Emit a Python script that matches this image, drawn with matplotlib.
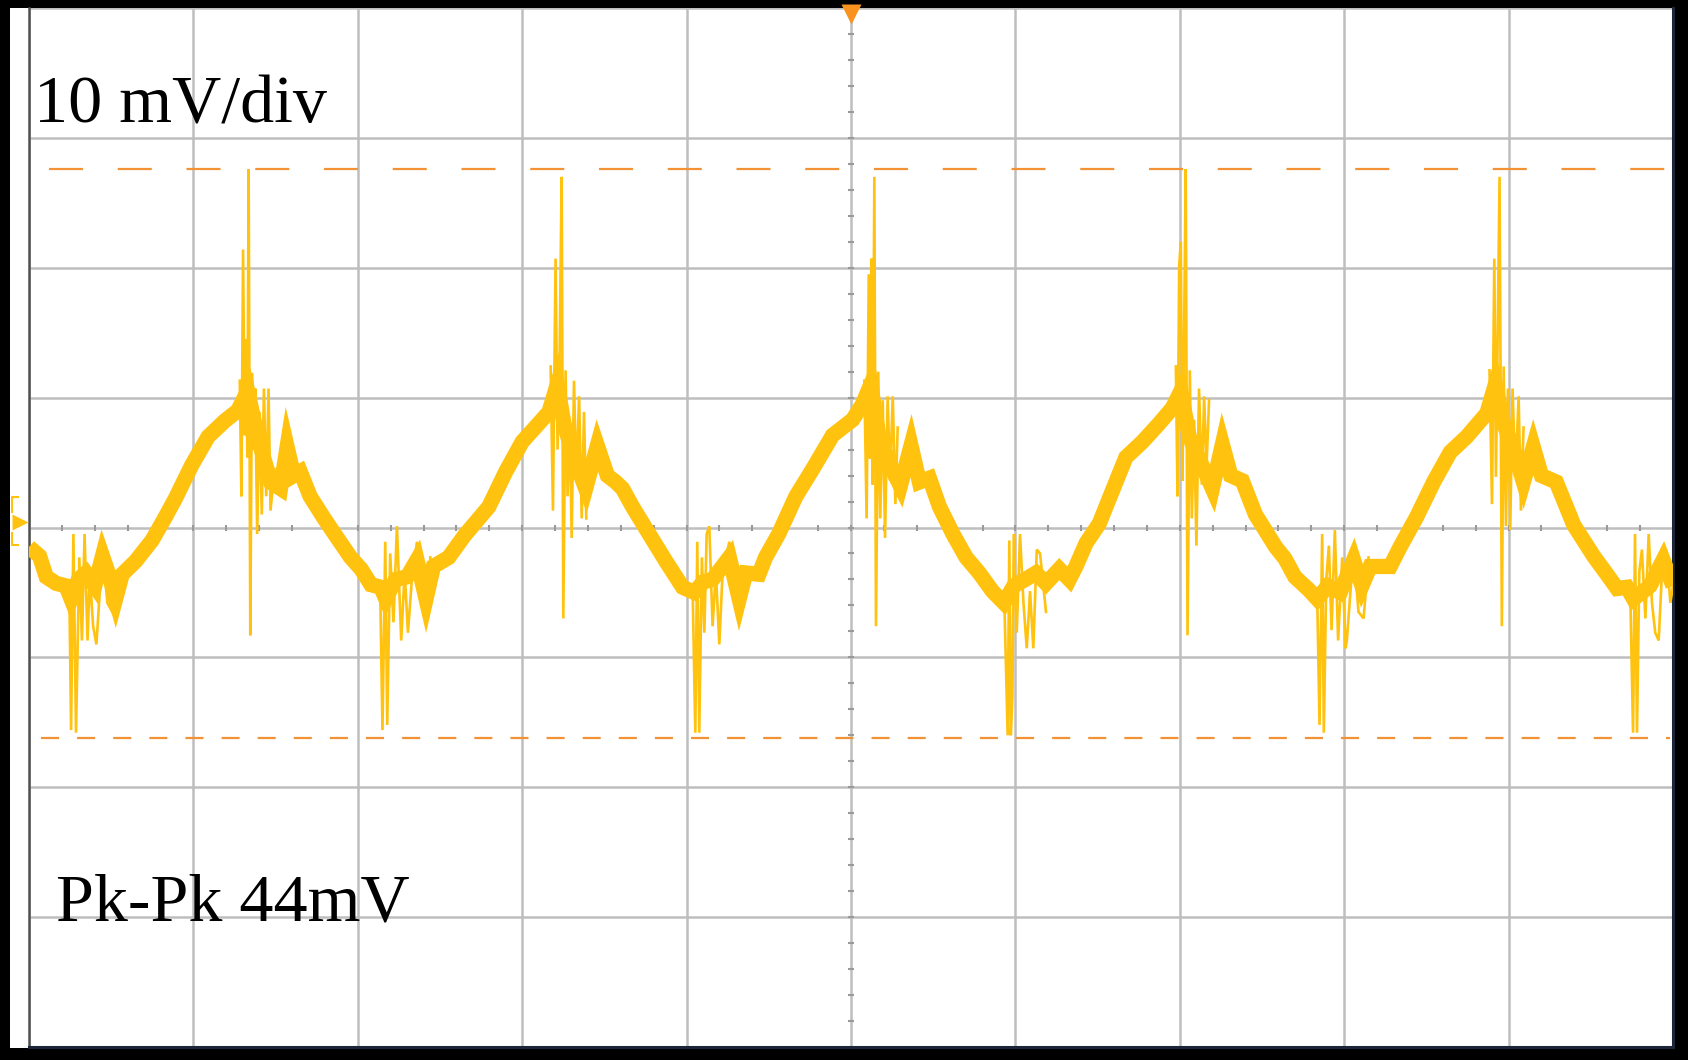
import numpy as np
import matplotlib
matplotlib.use("Agg")
import matplotlib.pyplot as plt
from matplotlib.patches import Rectangle
from matplotlib.transforms import blended_transform_factory

# ---------------- data (time in divisions, voltage in mV) ----------------
band_t = [0.000, 0.064, 0.105, 0.165, 0.225, 0.256, 0.300, 0.346, 0.400, 0.447, 0.490, 0.527, 0.567,
          0.648, 0.748, 0.829, 0.889, 0.990, 1.090, 1.190, 1.270, 1.330, 1.390, 1.470, 1.530, 1.570,
          1.610, 1.650, 1.710, 1.795, 1.875, 1.956,
          2.020, 2.080, 2.140, 2.170, 2.230, 2.300, 2.360, 2.415, 2.460, 2.553, 2.650, 2.797, 2.900,
          3.000, 3.100, 3.163, 3.213, 3.254, 3.325, 3.386, 3.457, 3.518, 3.569, 3.610, 3.671, 3.772,
          3.874, 3.976,
          4.047, 4.100, 4.158, 4.260, 4.320, 4.360, 4.440, 4.480, 4.560, 4.665, 4.767, 4.888, 5.010,
          5.070, 5.120, 5.170, 5.250, 5.300, 5.365, 5.416, 5.477, 5.538, 5.620, 5.700, 5.780, 5.860,
          5.930,
          5.990, 6.060, 6.125, 6.186, 6.267, 6.328, 6.368, 6.430, 6.510, 6.570, 6.672, 6.773, 6.874,
          6.955, 7.006, 7.057, 7.128, 7.198, 7.259, 7.310, 7.380, 7.460, 7.583, 7.640, 7.700, 7.785,
          7.836,
          7.900, 7.976, 8.057, 8.108, 8.158, 8.280, 8.340, 8.440, 8.544, 8.645, 8.746, 8.868, 8.919,
          8.970, 9.030, 9.090, 9.150, 9.200, 9.290, 9.396, 9.517, 9.598, 9.660, 9.720, 9.760, 9.860,
          9.940, 10.000]
band_v = [-1.5, -2.2, -3.8, -4.3, -4.5, -5.5, -4.0, -3.5, -4.5, -2.2, -3.8, -5.5, -3.6,
          -2.6, -1.0, 0.8, 2.2, 4.8, 7.0, 8.2, 9.0, 10.5, 7.0, 3.5, 3.0, 6.2,
          4.0, 4.3, 2.4, 0.7, -0.8, -2.3,
          -3.2, -4.4, -4.6, -5.5, -4.0, -3.8, -2.5, -5.5, -3.0, -2.3, -0.6, 1.6, 4.3,
          6.6, 8.0, 8.9, 11.0, 8.0, 5.0, 3.0, 6.3, 4.0, 3.5, 3.0, 1.6, -0.5,
          -2.6, -4.6,
          -5.0, -4.2, -4.0, -2.3, -5.5, -3.5, -3.6, -2.3, -0.5, 2.4, 4.5, 7.1, 8.3,
          9.5, 11.0, 7.0, 4.5, 3.2, 6.3, 3.5, 3.8, 1.6, -0.5, -2.3, -3.5, -4.9,
          -5.8,
          -4.5, -4.0, -3.5, -4.3, -3.2, -4.0, -3.0, -1.2, 0.3, 2.2, 5.4, 6.6, 8.0,
          9.2, 10.5, 7.0, 5.0, 3.0, 6.4, 4.0, 3.6, 1.0, -1.5, -2.4, -3.8, -4.8,
          -5.5,
          -4.5, -5.0, -2.5, -4.5, -3.0, -3.0, -1.5, 0.8, 3.5, 5.8, 7.0, 8.8, 11.0,
          8.0, 6.0, 3.5, 6.2, 4.0, 3.5, 0.2, -2.2, -3.6, -4.7, -4.6, -5.5, -4.5,
          -2.5, -4.5]

nan = np.nan
ring_t = [0.245, 0.256, 0.270, 0.286, 0.306, 0.322, 0.338, 0.356, 0.370, 0.390, 0.410, 0.447, 0.477, 0.527, nan,
          1.282, 1.292, 1.302, 1.312, 1.320, 1.328, 1.336, 1.346, 1.356, 1.368, 1.376, 1.388, 1.402, 1.416, 1.429, 1.443, 1.457, 1.469, 1.493, nan,
          2.136, 2.150, 2.167, 2.179, 2.197, 2.217, 2.238, 2.264, 2.285, 2.305, 2.329, 2.360, 2.390, 2.415, 2.441, nan,
          3.173, 3.187, 3.203, 3.215, 3.228, 3.240, 3.250, 3.264, 3.276, 3.289, 3.301, 3.315, 3.329, 3.346, 3.362, 3.376, 3.390, nan,
          4.037, 4.053, 4.065, 4.077, 4.093, 4.108, 4.122, 4.138, 4.158, 4.178, 4.199, 4.219, 4.260, 4.290, 4.320, nan,
          5.081, 5.095, 5.108, 5.116, 5.124, 5.132, 5.142, 5.152, 5.166, 5.178, 5.193, 5.207, 5.223, 5.237, 5.254, 5.270, 5.284, nan,
          5.933, 5.953, 5.963, 5.972, 5.982, 5.990, 6.008, 6.028, 6.049, 6.069, 6.089, 6.109, 6.130, 6.150, 6.186, nan,
          6.976, 6.986, 6.996, 7.006, 7.016, 7.026, 7.036, 7.047, 7.061, 7.073, 7.087, 7.101, 7.117, 7.134, 7.148, 7.162, 7.178, nan,
          7.836, 7.850, 7.866, 7.876, 7.891, 7.907, 7.923, 7.943, 7.963, 7.988, 8.008, 8.016, 8.057, 8.087, 8.118, 8.148, nan,
          8.884, 8.899, 8.913, 8.923, 8.933, 8.945, 8.959, 8.970, 8.984, 8.996, 9.010, 9.024, 9.041, 9.061, 9.075, 9.091, nan,
          9.740, 9.757, 9.769, 9.781, 9.795, 9.811, 9.832, 9.852, 9.872, 9.892, 9.913, 9.933, 9.959, 9.984, 10.000]
ring_v = [-4.5, -15.6, -0.5, -15.8, -2.3, -8.7, -0.5, -8.7, -3.7, -7.6, -9.0, -1.7, -5.8, -7.0, nan,
          11.3, 2.4, 21.4, 7.1, 14.5, 5.4, 27.6, -8.3, 11.9, 6.0, 10.7, -0.5, 8.9, 1.0, 10.7, 2.4, 10.7, 1.3, 4.5, nan,
          -4.5, -15.6, -1.1, -15.2, -2.0, -7.3, 0.1, -8.7, -3.4, -8.1, -4.0, -1.1, -5.3, -7.0, -2.3, nan,
          12.4, 1.3, 20.7, 6.0, 13.6, 27.0, -7.0, 12.1, 2.4, 8.3, -0.8, 11.3, 3.6, 10.1, 0.7, 8.9, 0.7, nan,
          -5.0, -15.8, -1.1, -15.8, -2.3, -8.1, -0.5, 0.1, -7.6, -3.4, -9.0, -3.4, -1.1, -4.6, -7.0, nan,
          11.3, 0.7, 19.5, 5.3, 20.7, 3.3, 27.0, -7.6, 12.0, 0.7, 9.8, -0.8, 10.1, 3.6, 10.1, 1.8, 7.7, nan,
          -5.8, -16.0, -1.0, -16.0, -13.0, -0.5, -8.1, -0.5, -5.8, -9.3, -4.9, -9.3, -1.7, -2.0, -6.5, nan,
          12.4, 2.4, 20.1, 22.0, 3.6, 14.5, 27.6, -8.3, 12.1, 0.7, 8.3, -1.4, 10.7, 3.3, 10.1, 4.5, 9.8, nan,
          -5.5, -15.2, -0.5, -15.8, -4.0, -1.4, -7.9, -0.2, -8.7, -2.3, -9.3, -8.7, -1.7, -6.5, -7.0, -2.3, nan,
          12.1, 1.8, 20.7, 3.9, 14.2, 27.0, -7.6, 12.4, 0.1, 10.7, -0.2, 10.7, 3.9, 10.1, 1.3, 7.7, nan,
          -5.0, -15.8, -0.5, -15.8, -3.4, -1.7, -7.0, -0.5, -5.8, -8.1, -8.7, -3.4, -1.7, -5.8, -4.5]

cursor_top_mv = 27.6
cursor_bot_mv = -16.2
cursor_top_span = [0.12, 9.98]
cursor_bot_span = [0.07, 9.98]
label_scale = "10 mV/div"
label_pkpk = "Pk-Pk 44mV"

# ---------------- styling ----------------
W, H = 1688, 1060
plt.rcParams['lines.scale_dashes'] = False
TRACE = '#FFC20E'
CURSOR = '#F39234'
GRID = '#BEBEBE'

fig = plt.figure(figsize=(W / 100, H / 100), dpi=100, facecolor='black')
fig.patches.append(Rectangle((10 / W, 1 - 1048 / H), (1675 - 10) / W, (1048 - 8) / H,
                             transform=fig.transFigure, facecolor='white', edgecolor='none', zorder=-10))

ax = fig.add_axes([29 / W, 1 - 1047 / H, (1673 - 29) / W, (1047 - 8) / H])
ax.set_zorder(1)
ax.set_facecolor('white')
ax.set_xlim(0, 10)
ax.set_ylim(-40, 40)
ax.set_xticks(np.arange(0, 11, 1))
ax.set_yticks(np.arange(-40, 41, 10))
ax.tick_params(length=0, labelbottom=False, labelleft=False)
ax.grid(True, color=GRID, lw=1.8, zorder=0)
ax.set_axisbelow(True)
ax.spines['top'].set_visible(False)
ax.spines['left'].set_color('#505050')
ax.spines['left'].set_linewidth(1.8)
for s in ('bottom', 'right'):
    ax.spines[s].set_color('#1c2638')
    ax.spines[s].set_linewidth(2.2)

# centre graticule minor ticks
xs = np.arange(0.2, 10, 0.2)
ax.plot(xs, np.zeros_like(xs), ls='none', marker='|', ms=5, mew=1.5, color='#9A9A9A', zorder=1)
ys = np.arange(-38, 40, 2)
ax.plot(np.full_like(ys, 5.0, dtype=float), ys, ls='none', marker='_', ms=5, mew=1.5, color='#9A9A9A', zorder=1)

# cursors
ax.plot(cursor_top_span, [cursor_top_mv] * 2, color=CURSOR, lw=1.6, dashes=(24.5, 25), zorder=2)
ax.plot(cursor_bot_span, [cursor_bot_mv] * 2, color=CURSOR, lw=1.6, dashes=(13, 13), zorder=2)

# trace
ax.plot(ring_t, ring_v, color=TRACE, lw=1.9, zorder=3, solid_joinstyle='miter')
ax.plot(band_t, band_v, color=TRACE, lw=11, zorder=4, solid_joinstyle='miter', solid_capstyle='butt')

# trigger marker (top) and channel marker (left)
tr = blended_transform_factory(ax.transData, fig.transFigure)
ax.plot([5], [1 - 14 / H], marker='v', ms=15, color='#F7931E', mec='none', transform=tr, clip_on=False, zorder=6)
fig.lines.append(plt.Line2D([20 / W], [1 - 522 / H], marker='>', ms=11, color=TRACE, mec='none',
                            transform=fig.transFigure, zorder=6))
fig.lines.append(plt.Line2D([18 / W, 12 / W, 12 / W], [1 - 497 / H, 1 - 497 / H, 1 - 512 / H],
                            transform=fig.transFigure, color=TRACE, lw=1.5))
fig.lines.append(plt.Line2D([12 / W, 12 / W, 18 / W], [1 - 533 / H, 1 - 545 / H, 1 - 545 / H],
                            transform=fig.transFigure, color=TRACE, lw=1.5))

# labels
fig.text(34 / W, 1 - 123 / H, label_scale, fontsize=49, family='Liberation Serif', color='black',
         va='baseline', zorder=10)
fig.text(56 / W, 1 - 920 / H, label_pkpk, fontsize=49, family='Liberation Serif', color='black',
         va='baseline', zorder=10)

fig.savefig('out.png', dpi=100, facecolor='black')
